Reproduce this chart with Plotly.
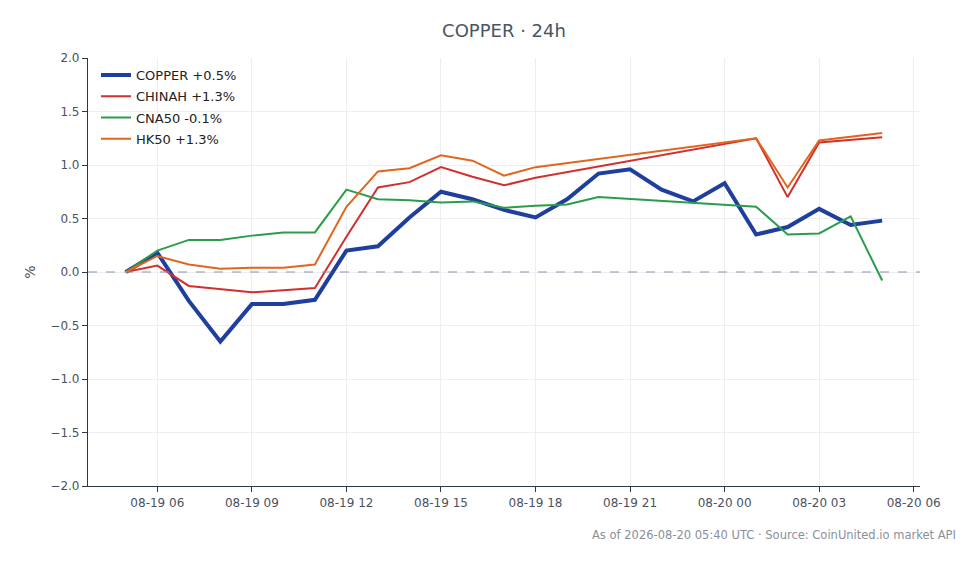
import plotly.graph_objects as go
import pandas as pd

times = pd.date_range("2026-08-19 05:00", "2026-08-20 05:00", freq="h")

copper = [0.00, 0.18, -0.27, -0.65, -0.30, -0.30, -0.26, 0.20, 0.24, 0.51, 0.75, 0.68,
          0.58, 0.51, 0.68, 0.92, 0.96, 0.77, 0.66, 0.83, 0.35, 0.42, 0.59, 0.44, 0.48]
chinah = [0.00, 0.06, -0.13, -0.16, -0.19, -0.17, -0.15, 0.33, 0.79, 0.84, 0.98, 0.89,
          0.81, 0.88, None, None, None, None, None, None, 1.25, 0.70, 1.21, None, 1.26]
cna50 = [0.00, 0.20, 0.30, 0.30, 0.34, 0.37, 0.37, 0.77, 0.68, 0.67, 0.65, 0.66,
         0.60, 0.62, 0.63, 0.70, None, None, None, None, 0.61, 0.35, 0.36, 0.52, -0.08]
hk50 = [0.00, 0.15, 0.07, 0.03, 0.04, 0.04, 0.07, 0.61, 0.94, 0.97, 1.09, 1.04,
        0.90, 0.98, None, None, None, None, None, None, 1.25, 0.79, 1.23, None, 1.30]

names = ["COPPER +0.5%", "CHINAH +1.3%", "CNA50 -0.1%", "HK50 +1.3%"]
series = [copper, chinah, cna50, hk50]
colors = ["#1f3f9f", "#d1302e", "#2a9d4a", "#e0651f"]
widths = [4, 2, 2, 2]

y_ticks = [-2.0, -1.5, -1.0, -0.5, 0.0, 0.5, 1.0, 1.5, 2.0]
x_ticks = pd.date_range("2026-08-19 06:00", "2026-08-20 06:00", freq="3h")
x_labels = [t.strftime("%m-%d %H") for t in x_ticks]

fig = go.Figure()
for i, (name, vals, c, w) in enumerate(zip(names, series, colors, widths)):
    fig.add_trace(go.Scatter(x=times, y=vals, name=name, mode="lines", legendgroup=f"g{i}",
                             connectgaps=True, line=dict(color=c, width=w)))

fig.add_hline(y=0, line=dict(color="#8a94a6", width=1, dash="dash"))

axis_col = "#2d3748"
tick_col = "#4a5260"
fig.update_layout(
    width=971, height=556,
    paper_bgcolor="white", plot_bgcolor="white",
    margin=dict(l=80, r=59, t=50, b=78),
    font=dict(family="DejaVu Sans", size=12, color=tick_col),
    title=dict(text="COPPER · 24h", x=0.5, xref="paper", xanchor="center",
               y=0.9586, yref="container", yanchor="middle",
               font=dict(size=18, color="#4a5563")),
    showlegend=True,
    legend=dict(x=0.0096, y=0.995, xanchor="left", yanchor="top", bgcolor="rgba(255,255,255,0)",
                font=dict(size=13, color="#222222"), tracegroupgap=1.3, itemwidth=30),
    xaxis=dict(range=[pd.Timestamp("2026-08-19 03:48"), pd.Timestamp("2026-08-20 06:12")],
               tickvals=x_ticks, ticktext=x_labels, showgrid=True, gridcolor="#eceef2",
               showline=True, linecolor=axis_col, linewidth=1.2, ticks="outside",
               ticklen=5, tickcolor=axis_col, zeroline=False, tickfont=dict(size=12)),
    yaxis=dict(range=[-2.0, 2.0], tickvals=y_ticks, tickformat=".1f", showgrid=True,
               gridcolor="#eceef2", showline=True, linecolor=axis_col, linewidth=1.2,
               ticks="outside", ticklen=5, tickcolor=axis_col, zeroline=False,
               title=dict(text="%", standoff=11), tickfont=dict(size=12)),
)

fig.add_annotation(text="As of 2026-08-20 05:40 UTC · Source: CoinUnited.io market API",
                   xref="paper", yref="paper", x=1.046, y=-0.093, xanchor="right", yanchor="top",
                   showarrow=False, font=dict(size=11.5, color="#8a8f99"))

fig.write_html("out.html")
